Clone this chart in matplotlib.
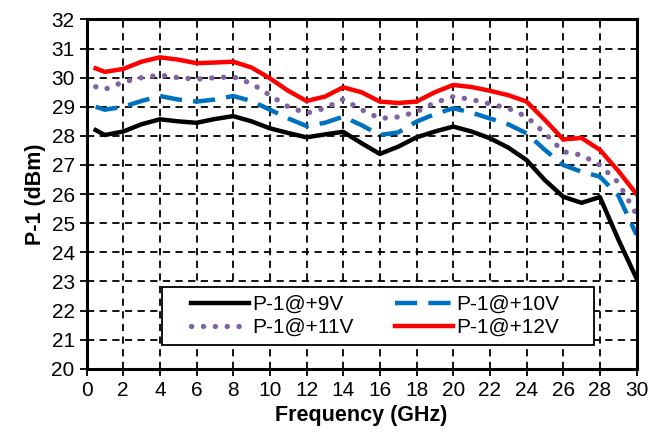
import numpy as np
import matplotlib
matplotlib.use("Agg")
import matplotlib.pyplot as plt
from matplotlib.patches import Rectangle

plt.rcParams['font.family'] = ['Liberation Sans', 'DejaVu Sans']

freq = [0.5, 1, 2, 3, 4, 5, 6, 7, 8, 9, 10, 11, 12, 13, 14, 15, 16, 17, 18, 19,
        20, 21, 22, 23, 24, 25, 26, 27, 28, 29, 30]

p1_9v = [28.2, 28.03, 28.15, 28.4, 28.57, 28.5, 28.45, 28.58, 28.68, 28.5, 28.26,
         28.1, 27.95, 28.05, 28.14, 27.75, 27.38, 27.63, 27.95, 28.15, 28.32, 28.15,
         27.92, 27.6, 27.17, 26.48, 25.91, 25.7, 25.9, 24.45, 23.1]
p1_10v = [29.0, 28.9, 29.0, 29.2, 29.37, 29.25, 29.18, 29.25, 29.37, 29.2, 28.9,
          28.6, 28.34, 28.45, 28.66, 28.37, 28.03, 28.12, 28.49, 28.75, 28.95, 28.8,
          28.6, 28.4, 28.09, 27.52, 27.0, 26.77, 26.6, 25.96, 24.6]
p1_11v = [29.69, 29.6, 29.85, 30.0, 30.09, 30.0, 29.95, 30.0, 30.03, 29.8, 29.4,
          29.0, 28.78, 28.95, 29.26, 28.9, 28.6, 28.65, 28.83, 29.14, 29.35, 29.25,
          29.1, 28.95, 28.66, 28.09, 27.46, 27.34, 27.0, 26.4, 25.3]
p1_12v = [30.32, 30.2, 30.3, 30.55, 30.7, 30.62, 30.5, 30.52, 30.55, 30.35, 29.98,
          29.55, 29.2, 29.35, 29.67, 29.5, 29.18, 29.13, 29.18, 29.5, 29.75, 29.68,
          29.55, 29.4, 29.18, 28.55, 27.88, 27.93, 27.52, 26.8, 26.0]

fig = plt.figure(figsize=(6.48, 4.38), dpi=100)
ax = fig.add_axes([0.1335, 0.1582, 0.8488, 0.7973])

l9, = ax.plot(freq, p1_9v, '-', color='black', lw=3.2, label='P-1@+9V')
l10, = ax.plot(freq, p1_10v, '-', color='#0070C0', lw=3.2, dashes=(5, 2.5),
               label='P-1@+10V')
l11, = ax.plot(freq, p1_11v, '-', color='#8064A2', lw=3.8, dashes=(0.05, 2.2),
               dash_capstyle='round', label='P-1@+11V')
l12, = ax.plot(freq, p1_12v, '-', color='#FF0000', lw=3.2, label='P-1@+12V')

ax.set_xlim(0, 30)
ax.set_ylim(20, 32)
ax.set_xticks(np.arange(0, 31, 2))
ax.set_yticks(np.arange(20, 33, 1))
ax.grid(True, color='black', linestyle=(0, (4, 3)), lw=1.3)
ax.tick_params(direction='out', length=5, width=1.3, labelsize=15)
for s in ax.spines.values():
    s.set_linewidth(2.2)

ax.set_xlabel("Frequency (GHz)", fontsize=15.5, fontweight='bold')
ax.set_ylabel("P-1 (dBm)", fontsize=15.5, fontweight='bold')

# legend box drawn separately so its size can be set
ax.add_patch(Rectangle((0.1373, 0.068), 0.7854, 0.166, transform=ax.transAxes,
                       facecolor='white', edgecolor='black', lw=1.3, zorder=4))
leg = ax.legend([l9, l11, l10, l12],
                ['P-1@+9V', 'P-1@+11V', 'P-1@+10V', 'P-1@+12V'],
                ncol=2, loc='center', bbox_to_anchor=(0.5245, 0.151),
                fontsize=15, frameon=False, handlelength=2.8,
                handletextpad=0.15, columnspacing=2.0, labelspacing=0.2)
leg.set_zorder(5)

fig.savefig('out.png', dpi=100)
